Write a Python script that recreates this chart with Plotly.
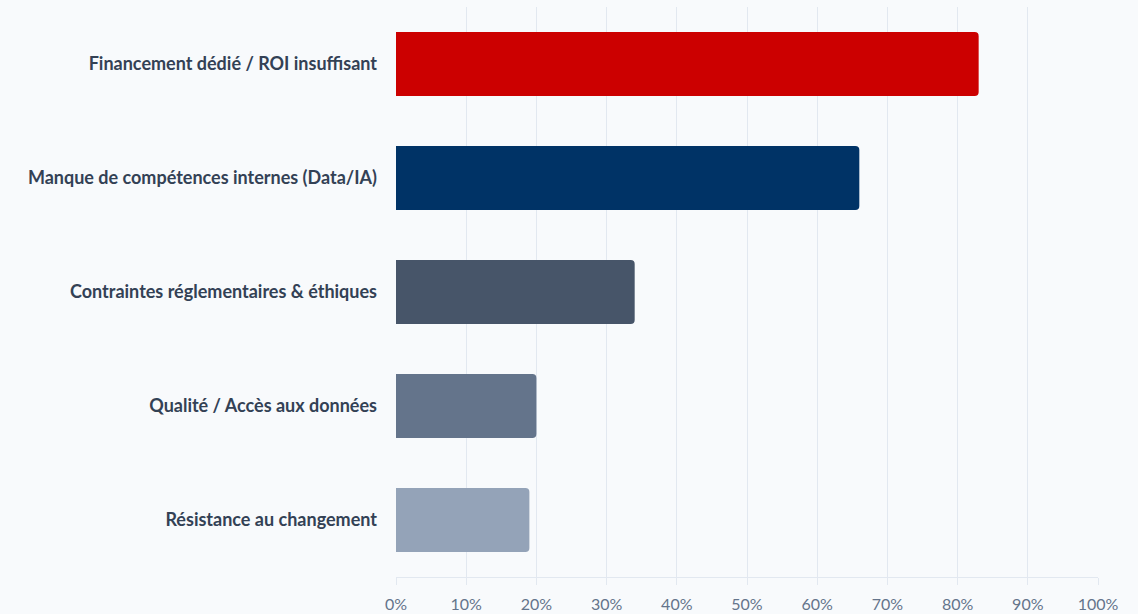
import plotly.graph_objects as go

categories = [
    "Financement dédié / ROI insuffisant",
    "Manque de compétences internes (Data/IA)",
    "Contraintes réglementaires & éthiques",
    "Qualité / Accès aux données",
    "Résistance au changement",
]
values = [83, 66, 34, 20, 19]
colors = ["#cc0000", "#003366", "#475569", "#64748b", "#94a3b8"]
tick_vals = [0, 10, 20, 30, 40, 50, 60, 70, 80, 90, 100]
tick_text = ["0%", "10%", "20%", "30%", "40%", "50%", "60%", "70%", "80%", "90%", "100%"]

fig = go.Figure(go.Bar(
    x=values,
    y=categories,
    orientation="h",
    marker=dict(color=colors, line=dict(width=0)),
    width=0.56,
    hoverinfo="x+y",
))

fig.update_layout(
    width=1138,
    height=614,
    margin=dict(l=396, r=40, t=7, b=37, autoexpand=False),
    paper_bgcolor="#f8fafc",
    plot_bgcolor="#f8fafc",
    barcornerradius=4,
    showlegend=False,
    font=dict(family="Lato", color="#334155"),
)
fig.update_xaxes(
    range=[0, 100],
    tickvals=tick_vals,
    ticktext=tick_text,
    showgrid=True,
    gridcolor="#e2e8f0",
    gridwidth=1,
    zeroline=False,
    showline=True,
    linecolor="#e2e8f0",
    ticks="outside",
    ticklen=7,
    tickcolor="#e2e8f0",
    ticklabelstandoff=6,
    tickfont=dict(family="Lato", size=16, color="#64748b"),
    automargin=False,
    fixedrange=True,
)
fig.update_yaxes(
    autorange="reversed",
    showgrid=False,
    zeroline=False,
    showline=False,
    ticklabelstandoff=18,
    tickfont=dict(family="Lato", size=18, color="#334155", weight="bold"),
    automargin=False,
    fixedrange=True,
)

fig.write_html("out.html", config={"displayModeBar": False})
